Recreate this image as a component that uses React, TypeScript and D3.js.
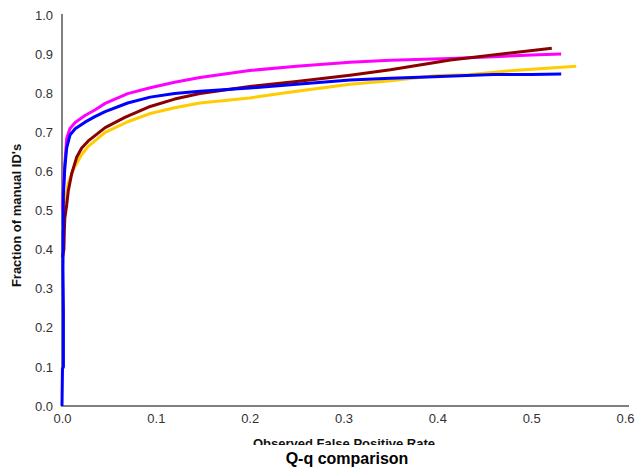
import React, { useEffect, useRef } from "react";
import * as d3 from "d3";

// Observed false positive rate vs. fraction of manual IDs, one curve per method
const magentaSeries: [number, number][] = [
  [0.0005, 0.5], [0.002, 0.58], [0.0032, 0.625], [0.005, 0.685], [0.0085, 0.71],
  [0.014, 0.725], [0.0245, 0.743], [0.035, 0.757], [0.046, 0.774], [0.07, 0.799],
  [0.094, 0.814], [0.12, 0.828], [0.147, 0.84], [0.2, 0.858], [0.25, 0.869],
  [0.307, 0.879], [0.35, 0.884], [0.414, 0.889], [0.46, 0.893], [0.5, 0.898], [0.532, 0.9],
];
const blueSeries: [number, number][] = [
  [0.0, 0.0], [0.0005, 0.095], [0.0015, 0.1], [0.0015, 0.245], [0.001, 0.35],
  [0.0015, 0.54], [0.003, 0.61], [0.005, 0.66], [0.0085, 0.693], [0.014, 0.709],
  [0.0245, 0.726], [0.035, 0.74], [0.046, 0.753], [0.07, 0.775], [0.094, 0.79],
  [0.12, 0.799], [0.147, 0.805], [0.2, 0.813], [0.25, 0.823], [0.307, 0.834], [0.35, 0.838],
  [0.396, 0.842], [0.46, 0.848], [0.5, 0.848], [0.532, 0.849],
];
const darkRedSeries: [number, number][] = [
  [0.0005, 0.38], [0.002, 0.4], [0.0025, 0.45], [0.003, 0.48], [0.005, 0.514],
  [0.0067, 0.55], [0.0103, 0.594], [0.0156, 0.636], [0.021, 0.66], [0.028, 0.678],
  [0.046, 0.712], [0.067, 0.738], [0.094, 0.766], [0.12, 0.785], [0.147, 0.799], [0.2, 0.817],
  [0.25, 0.83], [0.307, 0.846], [0.35, 0.86], [0.414, 0.885], [0.485, 0.905], [0.522, 0.915],
];
const goldSeries: [number, number][] = [
  [0.001, 0.45], [0.003, 0.52], [0.0067, 0.57], [0.012, 0.605], [0.021, 0.643],
  [0.028, 0.664], [0.046, 0.7], [0.07, 0.727], [0.094, 0.748], [0.12, 0.763], [0.147, 0.775],
  [0.2, 0.788], [0.25, 0.805], [0.307, 0.823], [0.35, 0.832], [0.4, 0.845],
  [0.433, 0.847], [0.485, 0.859], [0.548, 0.869],
];

const seriesList = [
  { name: "magenta", color: "#FF00FF", data: magentaSeries },
  { name: "gold", color: "#FFCC00", data: goldSeries },
  { name: "darkred", color: "#8B0000", data: darkRedSeries },
  { name: "blue", color: "#0000FF", data: blueSeries },
];

const xTicks = [0, 0.1, 0.2, 0.3, 0.4, 0.5, 0.6];
const yTicks = [0, 0.1, 0.2, 0.3, 0.4, 0.5, 0.6, 0.7, 0.8, 0.9, 1.0];

const W = 637;
const H = 472;
const left = 62;
const right = 625;
const top = 15;
const bottom = 406;

export default function App() {
  const ref = useRef<SVGSVGElement>(null);

  useEffect(() => {
    const svg = d3.select(ref.current);
    svg.selectAll("*").remove();

    const x = d3.scaleLinear().domain([0, 0.6]).range([left, right]);
    const y = d3.scaleLinear().domain([0, 1]).range([bottom, top]);
    const fmt = d3.format(".1f");
    const font = "Arial, 'Liberation Sans', sans-serif";

    // tick labels
    const yAxis = svg
      .append("g")
      .attr("transform", `translate(${left},0)`)
      .call(d3.axisLeft(y).tickValues(yTicks).tickFormat((d) => fmt(d as number)).tickSize(0).tickPadding(9));
    const xAxis = svg
      .append("g")
      .attr("transform", `translate(0,${bottom})`)
      .call(d3.axisBottom(x).tickValues(xTicks).tickFormat((d) => fmt(d as number)).tickSize(0).tickPadding(8));
    [yAxis, xAxis].forEach((g) => {
      g.select(".domain").remove();
      g.selectAll("text").attr("font-family", font).attr("font-size", 13).attr("fill", "#333");
    });

    // axis lines
    svg.append("line").attr("x1", left).attr("x2", left).attr("y1", top - 1).attr("y2", bottom + 1)
      .attr("stroke", "#808080").attr("stroke-width", 2);
    svg.append("line").attr("x1", left - 1).attr("x2", 629).attr("y1", bottom).attr("y2", bottom)
      .attr("stroke", "#808080").attr("stroke-width", 2);

    // curves
    const line = d3.line<[number, number]>().x((d) => x(d[0])).y((d) => y(d[1]));
    seriesList.forEach((s) => {
      svg.append("path").attr("d", line(s.data)).attr("fill", "none")
        .attr("stroke", s.color).attr("stroke-width", 3).attr("stroke-linejoin", "round");
    });

    // axis titles
    svg.append("text")
      .attr("transform", `translate(21,${(top + bottom) / 2 + 5}) rotate(-90)`)
      .attr("text-anchor", "middle").attr("font-family", font).attr("font-weight", "bold")
      .attr("font-size", 13).attr("fill", "#111").text("Fraction of manual ID's");

    const clip = svg.append("clipPath").attr("id", "xlabel-clip");
    clip.append("rect").attr("x", 0).attr("y", 0).attr("width", W).attr("height", 445);
    svg.append("text")
      .attr("x", 344).attr("y", 447.5).attr("clip-path", "url(#xlabel-clip)")
      .attr("text-anchor", "middle").attr("font-family", font).attr("font-weight", "bold")
      .attr("font-size", 13).attr("fill", "#111").text("Observed False Positive Rate");

    svg.append("text")
      .attr("x", 347).attr("y", 464)
      .attr("text-anchor", "middle").attr("font-family", font).attr("font-weight", "bold")
      .attr("font-size", 16).attr("fill", "#000").text("Q-q comparison");
  }, []);

  return (
    <svg
      ref={ref}
      width={W}
      height={H}
      style={{ position: "absolute", left: 0, top: 0, background: "#fff" }}
    />
  );
}
